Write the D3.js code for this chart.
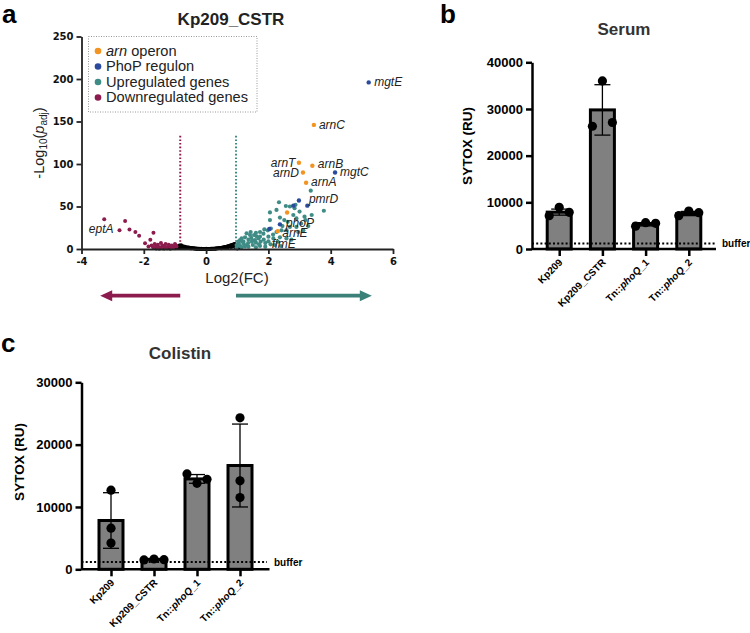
<!DOCTYPE html>
<html><head><meta charset="utf-8">
<script src="https://cdn.jsdelivr.net/npm/d3@7"></script>
<style>body{margin:0;background:#fff} svg{display:block}</style>
</head><body><svg id="c" width="750" height="633"></svg>
<script>
// ---------------- DATA ----------------
const volcanoXTicks = [-4, -2, 0, 2, 4, 6];
const volcanoYTicks = [0, 50, 100, 150, 200, 250];
const volcanoLegend = ["arn operon", "PhoP regulon", "Upregulated genes", "Downregulated genes"];
const thresholdDown = -0.83, thresholdUp = 0.96, thresholdTop = 135;
const arrowDownEnd = -3.4, arrowUpEnd = 5.32;

const nsGenes = [[-1.6,0.6],[-1.55,1.0],[-1.5,0.4],[-1.45,1.2],[-1.4,0.8],[-1.35,0.5],[-1.3,1.1],[-1.25,0.7],[-1.2,1.3],[-1.15,0.4],
[-1.1,1.0],[-1.05,1.5],[-1.0,0.8],[-0.98,2.0],[-0.95,1.3],[-0.92,2.6],[-0.9,3.4],[-0.88,1.6],[-0.86,4.2],[-0.84,3.6],[-0.82,3.1],[-0.8,4.5],
[-0.78,2.8],[-0.76,3.4],[-0.74,2.5],[-0.72,3.0],[-0.7,2.2],[-0.68,2.7],[-0.66,1.9],[-0.64,2.3],[-0.62,1.7],[-0.6,2.0],[-0.58,1.5],
[-0.56,1.8],[-0.54,1.3],[-0.52,1.5],[-0.5,1.1],[-0.48,1.3],[-0.46,0.9],[-0.44,1.1],[-0.42,0.8],[-0.4,0.9],[-0.38,0.6],[-0.36,0.7],
[-0.34,0.5],[-0.32,0.6],[-0.3,0.4],[-0.28,0.5],[-0.26,0.3],[-0.24,0.35],[-0.22,0.25],[-0.2,0.3],[-0.18,0.2],[-0.16,0.2],[-0.14,0.15],
[-0.12,0.1],[-0.1,0.1],[-0.08,0.05],[-0.06,0.05],[-0.04,0.02],[-0.02,0.02],[0.02,0.02],[0.04,0.05],[0.06,0.05],[0.08,0.1],[0.1,0.1],
[0.12,0.15],[0.14,0.2],[0.16,0.2],[0.18,0.3],[0.2,0.3],[0.22,0.35],[0.24,0.4],[0.26,0.45],[0.28,0.5],[0.3,0.6],[0.32,0.7],[0.34,0.8],
[0.36,0.8],[0.38,0.9],[0.4,1.0],[0.42,1.1],[0.44,1.2],[0.46,1.3],[0.48,1.4],[0.5,1.5],[0.52,1.7],[0.54,1.8],[0.56,2.0],[0.58,2.1],
[0.6,2.3],[0.62,2.4],[0.64,2.6],[0.66,2.8],[0.68,3.0],[0.7,3.2],[0.72,3.4],[0.74,3.6],[0.76,3.8],[0.78,4.1],[0.8,4.3],[0.82,4.6],
[0.84,4.9],[0.86,5.2],[0.88,5.4],[0.9,5.8],[0.92,6.1],[0.94,4.0],[0.9,3.2],[0.85,2.8],[0.8,2.2],[0.7,1.6],[0.6,1.2],[0.5,0.8],
[-0.5,0.7],[-0.6,1.1],[-0.7,1.5],[-0.8,2.0],[0.3,0.2],[-0.3,0.2],[0.0,0.3],[0.15,0.4],[-0.15,0.4],[0.95,1.0],[1.0,0.5],[1.05,1.1]];

const downGenes = [[-3.27,35],[-2.78,22],[-2.6,33],[-2.46,23],[-2.27,20],[-2.15,15.6],[-1.96,6.7],[-1.79,11],[-1.69,19],
[-1.75,4],[-1.65,6],[-1.6,3],[-1.55,5],[-1.5,2],[-1.45,7],[-1.4,4],[-1.35,3],[-1.3,6],[-1.25,2],[-1.2,5],[-1.15,3],[-1.1,4],
[-1.05,2],[-1.0,6],[-0.95,3],[-1.7,2.2],[-1.58,1.8],[-1.42,1.6],[-1.3,1.5],[-1.85,3],[-1.12,1.7],[-0.98,4.5]];

const upGenes = [[2.34,55],[2.05,43],[2.26,46],[2.56,50.6],[2.69,50],[2.87,52],[3.0,44],[3.39,40],[3.78,45],[3.36,68.6],
[2.84,48],[2.8,40],[2.37,37],[2.05,34],[2.51,34],[2.9,36],[2.08,24],[1.98,22],[2.26,20],[2.42,22],[2.58,22],[2.69,26],[2.9,26],
[2.96,20],[3.12,22],[3.28,27],[1.84,18],[1.73,14.5],[1.68,12.5],[1.54,16.5],[1.57,10.6],[1.41,16.5],[1.36,11],[1.3,18.4],[1.25,13.7],
[1.14,12.5],[1.09,10.6],[1.03,8.6],[1.2,8.6],[1.47,8.6],[1.6,7.5],[1.75,8.6],[1.9,7],[2.07,5.5],[2.2,4.7],[2.4,3.5],[0.98,4.7],
[1.09,3.5],[1.3,4.7],[1.5,4.7],[1.73,3.5],[1.9,2.7],[1.36,2.7],[1.6,2],[1.14,2],[0.98,1.5],[2.0,14.5],[2.16,12.5],[2.37,13.7],
[2.58,12.5],[2.74,11],[2.3,8.6],[1.73,20],[1.6,19],[1.43,20],[1.87,23],[3.16,38],[3.19,34],[1.2,6],[1.35,7],[1.05,6.5],[1.15,9],
[1.45,13],[1.62,15],[1.25,3],[1.5,10],[1.7,5.5],[1.85,11],[2.0,9],[2.15,17],[2.45,27],[2.62,32],[3.05,30]];

const phoPGenes = [[5.22,196],[4.14,90],[2.98,57],[3.25,51],[2.8,51],[2.37,29],[2.03,23.5]];
const arnGenes = [[3.46,146],[2.98,101.5],[3.41,98],[3.11,90],[3.21,78],[2.6,43],[2.3,21]];

const geneLabels = [
  {gene:"mgtE", x:5.22, y:196}, {gene:"arnC", x:3.46, y:146}, {gene:"arnT", x:2.98, y:101.5},
  {gene:"arnB", x:3.41, y:98}, {gene:"arnD", x:3.11, y:90}, {gene:"mgtC", x:4.14, y:90},
  {gene:"arnA", x:3.21, y:78}, {gene:"pmrD", x:2.98, y:57}, {gene:"phoP", x:2.37, y:29},
  {gene:"arnE", x:2.3, y:21}, {gene:"fimE", x:1.9, y:2.7}, {gene:"eptA", x:-2.78, y:22}];

const strains = ["Kp209", "Kp209_CSTR", "Tn::phoQ_1", "Tn::phoQ_2"];
const serumTicks = [0, 10000, 20000, 30000, 40000];
const serumMean = [7900, 29800, 5300, 7600];
const serumSD = [650, 5400, 350, 450];
const serumReps = [[7130, 8930, 7860], [26300, 36000, 27100], [4900, 5630, 5500], [7130, 8140, 7780]];
const serumBuffer = 1200;

const colistinTicks = [0, 10000, 20000, 30000];
const colistinMean = [7830, 1600, 14500, 16650];
const colistinSD = [4460, 80, 700, 6650];
const colistinReps = [[12700, 6600, 4200], [1500, 1650, 1550], [15300, 13800, 14450], [24300, 14200, 11500]];
const colistinBuffer = 1170;

// ---------------- STYLE ----------------
const FA = "'Liberation Sans', Arial, Helvetica, sans-serif";
const FV = "'DejaVu Sans', Verdana, sans-serif";
const C_ARN = "#f39422", C_PHOP = "#2a4a9e", C_UP = "#3f8c86", C_DOWN = "#8c1c4e";

const svg = d3.select("#c");

// ---------------- PANEL A: volcano ----------------
const xV = d3.scaleLinear().domain([-4, 6]).range([81.5, 393]);
const yV = d3.scaleLinear().domain([0, 250]).range([249, 36.5]);
const gA = svg.append("g");

gA.append("text").attr("x", 2).attr("y", 23).text("a")
  .attr("font-family", FA).attr("font-weight", "bold").attr("font-size", 26);
gA.append("text").attr("x", 231).attr("y", 25).attr("text-anchor", "middle").text("Kp209_CSTR")
  .attr("font-family", FA).attr("font-weight", "bold").attr("font-size", 17).attr("fill", "#222");

// threshold lines
gA.append("line").attr("x1", xV(thresholdDown)).attr("x2", xV(thresholdDown))
  .attr("y1", yV(0)).attr("y2", yV(thresholdTop)).attr("stroke", C_DOWN).attr("stroke-width", 2).attr("stroke-dasharray", "1.6,2");
gA.append("line").attr("x1", xV(thresholdUp)).attr("x2", xV(thresholdUp))
  .attr("y1", yV(0)).attr("y2", yV(thresholdTop)).attr("stroke", C_UP).attr("stroke-width", 2).attr("stroke-dasharray", "1.6,2");

// points
function dots(data, color, r) {
  gA.append("g").selectAll("circle").data(data).join("circle")
    .attr("cx", d => xV(d[0])).attr("cy", d => yV(d[1])).attr("r", r).attr("fill", color);
}
dots(nsGenes, "#000", 1.9);
dots(downGenes, C_DOWN, 2);
dots(upGenes, C_UP, 2.1);
dots(phoPGenes, C_PHOP, 2.2);
dots(arnGenes, C_ARN, 2.2);

// axes
const axX = gA.append("g").attr("transform", `translate(0,${yV(0)})`)
  .call(d3.axisBottom(xV).tickValues(volcanoXTicks).tickSize(5).tickSizeOuter(0).tickPadding(4).tickFormat(d => String(d)));
const axY = gA.append("g").attr("transform", `translate(${xV(-4)},0)`)
  .call(d3.axisLeft(yV).tickValues(volcanoYTicks).tickSize(5).tickSizeOuter(0).tickPadding(3).tickFormat(d => String(d)));
[axX, axY].forEach(a => {
  a.selectAll("path,line").attr("stroke", "#222").attr("stroke-width", 1.8);
  a.selectAll("text").attr("font-family", FV).attr("font-weight", "bold").attr("font-size", 10).attr("fill", "#111");
});

// labels
const labelStyle = {
  mgtE:[5.5,4,"start"], arnC:[5,4,"start"], arnT:[-3.5,4,"end"], arnB:[5.5,2,"start"], arnD:[-4,4,"end"],
  mgtC:[5,3.5,"start"], arnA:[5,3.5,"start"], pmrD:[10,2.5,"start"], phoP:[6,3,"start"], arnE:[4.5,5.5,"start"],
  fimE:[6.5,1.5,"start"], eptA:[-6,3,"end"]};
gA.append("g").selectAll("text").data(geneLabels).join("text")
  .attr("x", d => xV(d.x) + labelStyle[d.gene][0]).attr("y", d => yV(d.y) + labelStyle[d.gene][1])
  .attr("text-anchor", d => labelStyle[d.gene][2]).text(d => d.gene)
  .attr("font-family", FA).attr("font-style", "italic").attr("font-size", 12).attr("fill", "#222");

// axis titles
gA.append("text").attr("x", 237).attr("y", 283).attr("text-anchor", "middle").text("Log2(FC)")
  .attr("font-family", FA).attr("font-size", 15).attr("fill", "#222");
const yl = gA.append("text").attr("transform", "translate(44,143) rotate(-90)").attr("text-anchor", "middle")
  .attr("font-family", FA).attr("font-size", 14.5).attr("fill", "#222");
yl.append("tspan").text("-Log");
yl.append("tspan").text("10").attr("font-size", 10).attr("dy", 3);
yl.append("tspan").text("(").attr("dy", -3);
yl.append("tspan").text("p").attr("font-style", "italic");
yl.append("tspan").text("adj").attr("font-size", 10).attr("dy", 3);
yl.append("tspan").text(")").attr("dy", -3);

// legend
const lg = gA.append("g");
lg.append("rect").attr("x", 88.5).attr("y", 36.5).attr("width", 168.5).attr("height", 75.5)
  .attr("fill", "none").attr("stroke", "#999").attr("stroke-width", 1).attr("stroke-dasharray", "1,1.5");
const lgColors = [C_ARN, C_PHOP, C_UP, C_DOWN];
volcanoLegend.forEach((t, i) => {
  const yy = 51 + i * 15.5;
  lg.append("circle").attr("cx", 98).attr("cy", yy).attr("r", 3.3).attr("fill", lgColors[i]);
  const tx = lg.append("text").attr("x", 106).attr("y", yy + 4.8)
    .attr("font-family", FA).attr("font-size", 14.6).attr("fill", "#222");
  if (i === 0) {
    tx.append("tspan").text("arn").attr("font-style", "italic");
    tx.append("tspan").text(" operon");
  } else tx.text(t);
});

// arrows
function arrow(x0, x1, color) {
  const y = 295.7, dir = x1 < x0 ? -1 : 1, hl = 12;
  gA.append("line").attr("x1", x0).attr("x2", x1 - dir * hl + dir).attr("y1", y).attr("y2", y)
    .attr("stroke", color).attr("stroke-width", 3.8);
  gA.append("path").attr("d", `M${x1},${y} L${x1 - dir * hl},${y - 5.5} L${x1 - dir * hl},${y + 5.5} Z`).attr("fill", color);
}
arrow(xV(thresholdDown), xV(arrowDownEnd), C_DOWN);
arrow(xV(thresholdUp), xV(arrowUpEnd), "#3b8079");

// ---------------- BAR PANELS ----------------
function barPanel(o) {
  const g = svg.append("g");
  const x = d3.scalePoint().domain(strains).range([o.x0, o.x1]).padding(o.pad);
  const y = d3.scaleLinear().domain([0, o.max]).range([o.y0, o.yTop]);
  const bw = 24;

  g.append("text").attr("x", o.letterX).attr("y", o.letterY).text(o.letter)
    .attr("font-family", FA).attr("font-weight", "bold").attr("font-size", 26);
  g.append("text").attr("x", o.titleX).attr("y", o.titleY).attr("text-anchor", "middle").text(o.title)
    .attr("font-family", FA).attr("font-weight", "bold").attr("font-size", 17).attr("fill", "#333");
  g.append("text").attr("transform", `translate(${o.ylabX},${o.ylabY}) rotate(-90)`).attr("text-anchor", "middle")
    .text("SYTOX (RU)").attr("font-family", FA).attr("font-weight", "bold").attr("font-size", 13.5);

  // bars
  g.append("g").selectAll("rect").data(strains).join("rect")
    .attr("x", d => x(d) - bw / 2).attr("width", bw)
    .attr("y", (d, i) => y(o.mean[i])).attr("height", (d, i) => y(0) - y(o.mean[i]))
    .attr("fill", "#808080").attr("stroke", "#000").attr("stroke-width", 3);

  // buffer line
  g.append("line").attr("x1", o.x0).attr("x2", o.bufEnd).attr("y1", y(o.buffer)).attr("y2", y(o.buffer))
    .attr("stroke", "#000").attr("stroke-width", 2).attr("stroke-dasharray", "2,2.2");
  g.append("text").attr("x", o.bufEnd + 7).attr("y", y(o.buffer) + 3.5).text("buffer")
    .attr("font-family", FA).attr("font-weight", "bold").attr("font-size", 10);

  // error bars
  strains.forEach((s, i) => {
    const cx = x(s), lo = y(o.mean[i] - o.sd[i]), hi = y(o.mean[i] + o.sd[i]);
    g.append("line").attr("x1", cx).attr("x2", cx).attr("y1", lo).attr("y2", hi).attr("stroke", "#000").attr("stroke-width", 1.3);
    [lo, hi].forEach(v => g.append("line").attr("x1", cx - 8).attr("x2", cx + 8).attr("y1", v).attr("y2", v)
      .attr("stroke", "#000").attr("stroke-width", 1.3));
    // replicate points: spread horizontally where they overlap
    const ys = o.reps[i].map(v => y(v));
    const overl = ys.map((a, j) => ys.some((b, k) => k !== j && Math.abs(a - b) < 9));
    const cluster = ys.map((a, j) => j).filter(j => overl[j]);
    ys.forEach((py, j) => {
      let dx = 0;
      if (overl[j]) {
        const k = cluster.indexOf(j), n = cluster.length;
        dx = n === 2 ? (k === 0 ? -10 : 10) : (k - (n - 1) / 2) * 10;
      }
      g.append("circle").attr("cx", cx + dx).attr("cy", py).attr("r", 4.6).attr("fill", "#000");
    });
  });

  // axes
  const ay = g.append("g").attr("transform", `translate(${o.x0},0)`)
    .call(d3.axisLeft(y).tickValues(o.ticks).tickSize(6).tickSizeOuter(0).tickPadding(3).tickFormat(d => String(d)));
  const ax = g.append("g").attr("transform", `translate(0,${o.y0})`)
    .call(d3.axisBottom(x).tickSize(7).tickSizeOuter(0).tickFormat(""));
  ax.select(".domain").attr("d", `M${o.x0},0H${o.x1}`);
  [ax, ay].forEach(a => a.selectAll("path,line").attr("stroke", "#000").attr("stroke-width", 2.5));
  ay.selectAll("text").attr("font-family", FA).attr("font-weight", "bold").attr("font-size", 13).attr("fill", "#000");

  // rotated category labels
  g.append("g").selectAll("text").data(strains).join("text")
    .attr("transform", d => `translate(${x(d) + 4},${o.y0 + 14}) rotate(-45)`)
    .attr("text-anchor", "end").attr("font-family", FA).attr("font-weight", "bold").attr("font-size", 10)
    .each(function (d) {
      const t = d3.select(this);
      const m = d.match(/^(Tn::)(phoQ)(_\d)$/);
      if (m) {
        t.append("tspan").text(m[1]);
        t.append("tspan").text(m[2]).attr("font-style", "italic");
        t.append("tspan").text(m[3]);
      } else t.text(d);
    });
}

barPanel({x0: 532, x1: 716, pad: 0.63, y0: 249, yTop: 62.3, max: 40000, ticks: serumTicks,
  mean: serumMean, sd: serumSD, reps: serumReps, buffer: serumBuffer, bufEnd: 715,
  title: "Serum", titleX: 624, titleY: 35, letter: "b", letterX: 440, letterY: 23, ylabX: 472, ylabY: 146});

barPanel({x0: 81.5, x1: 269.5, pad: 0.686, y0: 569.3, yTop: 382.3, max: 30000, ticks: colistinTicks,
  mean: colistinMean, sd: colistinSD, reps: colistinReps, buffer: colistinBuffer, bufEnd: 267,
  title: "Colistin", titleX: 180, titleY: 359, letter: "c", letterX: 1, letterY: 352, ylabX: 24, ylabY: 462});
</script></body></html>
